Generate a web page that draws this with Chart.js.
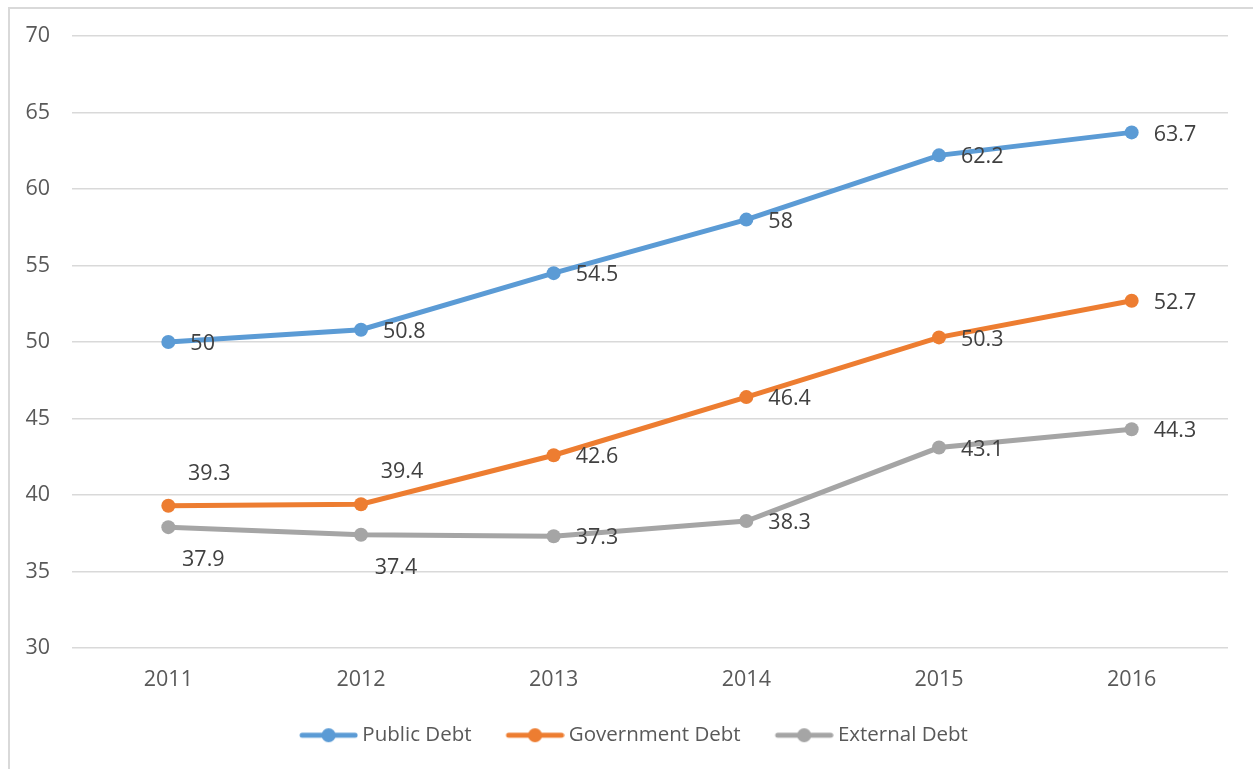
<!DOCTYPE html>
<html>
<head>
<meta charset="utf-8">
<script src="https://cdn.jsdelivr.net/npm/chart.js@4"></script>
<style>
  html, body { margin: 0; padding: 0; background: #fff; }
  #wrap { position: relative; width: 1253px; height: 769px; overflow: hidden; }
  #frame {
    position: absolute; left: 8px; top: 7px; width: 1400px; height: 900px;
    border-left: 2px solid #d9d9d9; border-top: 2px solid #d9d9d9;
    pointer-events: none;
  }
  canvas { position: absolute; left: 0; top: 0; }
</style>
</head>
<body>
<div id="wrap">
  <canvas id="debtChart" width="1253" height="769"></canvas>
  <div id="frame"></div>
</div>
<script>
const years = ["2011", "2012", "2013", "2014", "2015", "2016"];
const publicDebt = [50, 50.8, 54.5, 58, 62.2, 63.7];
const governmentDebt = [39.3, 39.4, 42.6, 46.4, 50.3, 52.7];
const externalDebt = [37.9, 37.4, 37.3, 38.3, 43.1, 44.3];

const FONT = "'Open Sans', 'Noto Sans', sans-serif";
const NUM_SIZE = 21.5;
const LEGEND_HEIGHT = 81;
const LEGEND_LEFT = 42;

// small line-with-dot swatch for the legend (wider than the legend box so it sits close to the text)
const legendSwatch = (color) => {
  const c = document.createElement("canvas");
  c.width = 62;
  c.height = 18;
  const g = c.getContext("2d");
  g.strokeStyle = color;
  g.lineWidth = 5;
  g.lineCap = "round";
  g.beginPath();
  g.moveTo(6, 9);
  g.lineTo(59, 9);
  g.stroke();
  g.fillStyle = color;
  g.beginPath();
  g.arc(32.5, 9, 7, 0, Math.PI * 2);
  g.fill();
  return c;
};

// the wide label padding would make the legend too tall, so pin its height,
// and centre the legend a bit right of the canvas middle
const legendBox = {
  id: "legendBox",
  beforeLayout(chart) {
    const lg = chart.legend;
    if (!lg || lg._pinned) return;
    const fit = lg.fit.bind(lg);
    lg.fit = function () {
      fit();
      this.height = LEGEND_HEIGHT;
    };
    lg._pinned = true;
  },
  afterLayout(chart) {
    const lg = chart.legend;
    if (!lg) return;
    lg.left = LEGEND_LEFT;
    lg.width = lg.right - lg.left;
  },
};

// value labels next to each point; placement per point comes from dataset.labelPos
const pointLabels = {
  id: "pointLabels",
  afterDatasetsDraw(chart) {
    const ctx = chart.ctx;
    ctx.save();
    ctx.font = `${NUM_SIZE}px ${FONT}`;
    ctx.fillStyle = "#404040";
    ctx.textBaseline = "middle";
    chart.data.datasets.forEach((ds, i) => {
      const meta = chart.getDatasetMeta(i);
      meta.data.forEach((pt, j) => {
        const pos = (ds.labelPos && ds.labelPos[j]) || "right";
        const text = String(ds.data[j]);
        if (pos === "above") {
          ctx.textAlign = "center";
          ctx.fillText(text, pt.x + 41, pt.y - 32);
        } else if (pos === "below") {
          ctx.textAlign = "center";
          ctx.fillText(text, pt.x + 35, pt.y + 33);
        } else {
          ctx.textAlign = "left";
          ctx.fillText(text, pt.x + 22, pt.y + 2);
        }
      });
    });
    ctx.restore();
  },
};

const series = [
  { label: "Public Debt", data: publicDebt, color: "#5b9bd5" },
  { label: "Government Debt", data: governmentDebt, color: "#ed7d31",
    labelPos: ["above", "above", "right", "right", "right", "right"] },
  { label: "External Debt", data: externalDebt, color: "#a5a5a5",
    labelPos: ["below", "below", "right", "right", "right", "right"] },
];

new Chart(document.getElementById("debtChart"), {
  type: "line",
  data: {
    labels: years,
    datasets: series.map((s) => ({
      label: s.label,
      data: s.data,
      labelPos: s.labelPos,
      borderColor: s.color,
      backgroundColor: s.color,
      pointBackgroundColor: s.color,
      pointBorderColor: s.color,
      borderWidth: 5,
      pointRadius: 7,
      pointBorderWidth: 0,
      tension: 0,
      swatch: legendSwatch(s.color),
    })),
  },
  options: {
    responsive: false,
    animation: false,
    layout: { padding: { top: 36, right: 25, left: 0, bottom: 0 } },
    plugins: {
      tooltip: { enabled: false },
      legend: {
        position: "bottom",
        labels: {
          usePointStyle: true,
          pointStyleWidth: 50,
          padding: 37,
          color: "#595959",
          font: { family: FONT, size: 20.5 },
          generateLabels(chart) {
            return chart.data.datasets.map((ds, i) => ({
              text: ds.label,
              pointStyle: ds.swatch,
              fillStyle: ds.borderColor,
              strokeStyle: ds.borderColor,
              lineWidth: 0,
              fontColor: "#595959",
              datasetIndex: i,
              hidden: false,
            }));
          },
        },
      },
    },
    scales: {
      x: {
        offset: true,
        grid: { display: false, drawTicks: false },
        border: { display: false },
        ticks: { color: "#595959", font: { family: FONT, size: NUM_SIZE }, padding: 19 },
        afterFit(scale) { scale.height = 40; },
      },
      y: {
        min: 30,
        max: 70,
        ticks: { stepSize: 5, color: "#595959", font: { family: FONT, size: NUM_SIZE }, padding: 22 },
        grid: { color: "#d9d9d9", lineWidth: 1.5, drawTicks: false },
        border: { display: false },
        afterFit(scale) { scale.width = 72; },
      },
    },
  },
  plugins: [legendBox, pointLabels],
});
</script>
</body>
</html>
